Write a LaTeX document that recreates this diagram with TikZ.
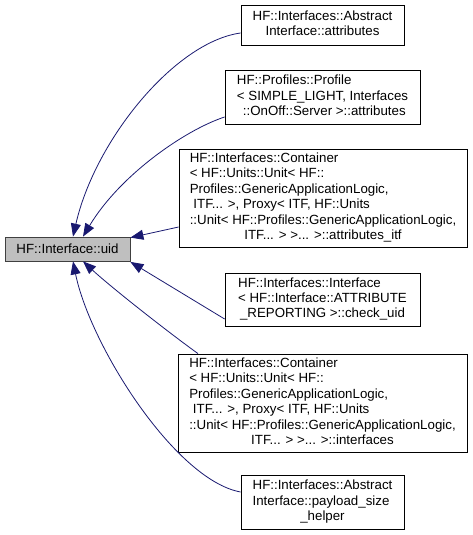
\documentclass[tikz,border=0pt]{standalone}
\usepackage{fontspec}
\setmainfont{Liberation Sans}
\usetikzlibrary{arrows.meta}
\definecolor{edgeblue}{HTML}{191970}
\definecolor{mainfill}{HTML}{BFBFBF}
\newcommand{\lastln}[1]{\multicolumn{1}{@{}c@{}}{#1}}
\begin{document}
\begin{tikzpicture}[x=1pt,y=-1pt,
  every node/.style={font=\fontsize{13.3}{15.4}\selectfont},
  box/.style={draw=black,line width=0.8pt,fill=white,rectangle,inner sep=0pt,anchor=center},
  mainbox/.style={draw=black!75,line width=0.8pt,fill=mainfill,rectangle,inner sep=0pt,minimum width=125pt,minimum height=24pt},
  edge/.style={draw=edgeblue,line width=0.8pt,-{Triangle[length=13pt,width=10pt]},shorten >=0pt}]
\useasboundingbox (0,0) rectangle (472,535);

\node[mainbox] (main) at (67.5,249) {HF::Interface::uid};

\node[box,minimum width=163pt,minimum height=40pt] (b1) at (322.5,25)
  {\begin{tabular}{@{}l@{}}HF::Interfaces::Abstract\\\lastln{Interface::attributes}\end{tabular}};

\node[box,minimum width=195pt,minimum height=54pt] (b2) at (322.5,97)
  {\begin{tabular}{@{}l@{}}HF::Profiles::Profile\\{}< SIMPLE\_LIGHT, Interfaces\\\lastln{\ ::OnOff::Server >::attributes}\end{tabular}};

\node[box,minimum width=288pt,minimum height=98pt] (b3) at (323,198)
  {\begin{tabular}{@{}l@{}}HF::Interfaces::Container\\{}< HF::Units::Unit< HF::\\Profiles::GenericApplicationLogic,\\\mbox{}\ ITF... >, Proxy< ITF, HF::Units\\::Unit< HF::Profiles::GenericApplicationLogic,\\\lastln{ITF... > >... >::attributes\_itf}\end{tabular}};

\node[box,minimum width=195pt,minimum height=53pt] (b4) at (322.5,299.5)
  {\begin{tabular}{@{}l@{}}HF::Interfaces::Interface\\{}< HF::Interface::ATTRIBUTE\\\lastln{\_REPORTING >::check\_uid}\end{tabular}};

\node[box,minimum width=289pt,minimum height=98pt] (b5) at (322.5,403)
  {\begin{tabular}{@{}l@{}}HF::Interfaces::Container\\{}< HF::Units::Unit< HF::\\Profiles::GenericApplicationLogic,\\\mbox{}\ ITF... >, Proxy< ITF, HF::Units\\::Unit< HF::Profiles::GenericApplicationLogic,\\\lastln{ITF... > >... >::interfaces}\end{tabular}};

\node[box,minimum width=163pt,minimum height=54pt] (b6) at (322.5,502)
  {\begin{tabular}{@{}l@{}}HF::Interfaces::Abstract\\Interface::payload\_size\\\lastln{\_helper}\end{tabular}};

\draw[edge] ([yshift=-8pt]b1.west) .. controls (175,42) and (95,140) .. ([xshift=5.5pt]main.north);
\draw[edge] ([yshift=-20pt]b2.west) .. controls (185,130) and (120,175) .. ([xshift=15.5pt]main.north);
\draw[edge] ([yshift=-29pt]b3.west) -- ([yshift=-1pt]main.north east);
\draw[edge] ([yshift=-19.5pt]b4.west) -- ([yshift=-0.5pt]main.south east);
\draw[edge] ([xshift=-124.5pt]b5.north) .. controls (168,332) and (112,288) .. ([xshift=15.5pt]main.south);
\draw[edge] ([yshift=10pt]b6.west) .. controls (175,480) and (90,345) .. ([xshift=5.5pt]main.south);
\end{tikzpicture}
\end{document}
